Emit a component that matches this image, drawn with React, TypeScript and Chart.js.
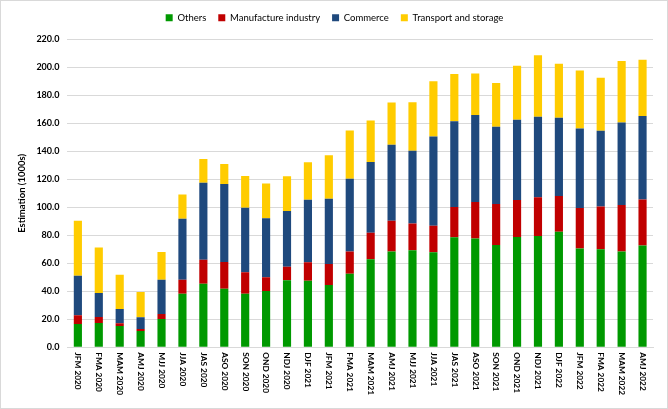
import React, { useEffect, useRef } from "react";
import { Chart, registerables } from "chart.js";

Chart.register(...registerables);

const categories = [
  "JFM 2020", "FMA 2020", "MAM 2020", "AMJ 2020", "MJJ 2020", "JJA 2020", "JAS 2020",
  "ASO 2020", "SON 2020", "OND 2020", "NDJ 2020", "DJF 2021", "JFM 2021", "FMA 2021",
  "MAM 2021", "AMJ 2021", "MJJ 2021", "JJA 2021", "JAS 2021", "ASO 2021", "SON 2021",
  "OND 2021", "NDJ 2021", "DJF 2022", "JFM 2022", "FMA 2022", "MAM 2022", "AMJ 2022",
];

const others = [
  16.7, 17.4, 15.2, 11.7, 20.2, 38.3, 45.5, 41.9, 38.2, 40.3, 47.9, 47.6, 44.5, 52.6,
  63.0, 68.5, 69.4, 67.9, 78.7, 77.7, 73.2, 78.9, 79.6, 82.5, 70.6, 70.1, 68.5, 72.7,
];
const manufacture = [
  6.2, 4.3, 1.9, 1.4, 3.6, 10.0, 17.1, 19.1, 15.4, 9.7, 9.7, 13.1, 15.0, 15.9,
  18.8, 22.0, 19.0, 19.0, 21.5, 26.1, 29.2, 26.3, 27.7, 25.6, 28.9, 30.6, 33.2, 33.0,
];
const commerce = [
  28.3, 17.1, 10.3, 8.3, 24.5, 43.6, 55.0, 55.7, 46.2, 42.2, 39.8, 44.8, 46.7, 51.9,
  50.7, 54.3, 52.1, 63.8, 61.4, 62.3, 55.2, 57.4, 57.4, 55.9, 56.9, 54.0, 59.0, 59.7,
];
const transport = [
  39.3, 32.6, 24.5, 18.1, 19.8, 17.4, 17.0, 14.3, 22.7, 24.9, 24.9, 26.7, 31.0, 34.6,
  29.6, 30.1, 34.6, 39.4, 33.7, 29.6, 31.3, 38.6, 44.1, 38.6, 41.5, 38.0, 44.0, 40.1,
];

const yTicks = { min: 0, max: 220, step: 20 };
const FONT = "Lato, 'Open Sans', sans-serif";
const X_FONT_SIZE = 8.3;

const downLabels = {
  id: "downLabels",
  afterDraw(chart: any) {
    const scale = chart.scales.x;
    const ctx = chart.ctx;
    ctx.save();
    ctx.fillStyle = "#000";
    ctx.font = `bold ${X_FONT_SIZE}px ${FONT}`;
    ctx.textAlign = "left";
    ctx.textBaseline = "middle";
    const labels = chart.data.labels as string[];
    labels.forEach((lab, i) => {
      const x = scale.getPixelForTick(i);
      const y = scale.top + 5;
      ctx.save();
      ctx.translate(x, y);
      ctx.rotate(Math.PI / 2);
      ctx.fillText(lab, 0, 0);
      ctx.restore();
    });
    ctx.restore();
  },
};

const legendGap = {
  id: "legendGap",
  beforeInit(chart: any) {
    const legend = chart.legend;
    if (!legend) return;
    const orig = legend.fit;
    legend.fit = function () {
      orig.call(this);
      this.height += 7;
    };
  },
};

export default function App() {
  const ref = useRef<HTMLCanvasElement | null>(null);
  useEffect(() => {
    if (!ref.current) return;
    const mk = (label: string, data: number[], color: string) => ({
      label,
      data,
      backgroundColor: color,
      borderWidth: 0,
      barPercentage: 0.78,
      categoryPercentage: 0.5,
    });
    const chart = new Chart(ref.current, {
      type: "bar",
      data: {
        labels: categories,
        datasets: [
          mk("Others", others, "#009900"),
          mk("Manufacture industry", manufacture, "#C00000"),
          mk("Commerce", commerce, "#1F497D"),
          mk("Transport and storage", transport, "#FFCC00"),
        ],
      },
      options: {
        animation: false,
        responsive: false,
        maintainAspectRatio: false,
        layout: { padding: { left: 15, right: 14, top: 0, bottom: 8 } },
        plugins: {
          legend: {
            position: "top",
            labels: {
              boxWidth: 7,
              boxHeight: 7,
              padding: 12,
              color: "#000",
              font: { family: FONT, size: 9.5 },
            },
          },
          tooltip: { enabled: false },
        },
        scales: {
          x: {
            stacked: true,
            grid: { display: false, drawTicks: false },
            border: { color: "#d9d9d9" },
            ticks: {
              color: "rgba(0,0,0,0)",
              minRotation: 90,
              maxRotation: 90,
              autoSkip: false,
              padding: 5,
              font: { family: FONT, size: X_FONT_SIZE, weight: "bold" },
            },
          },
          y: {
            stacked: true,
            min: yTicks.min,
            max: yTicks.max,
            grid: { color: "#d9d9d9", drawTicks: false },
            border: { display: false },
            ticks: {
              stepSize: yTicks.step,
              padding: 8,
              color: "#000",
              font: { family: FONT, size: 9, weight: "bold" },
              callback: (v: any) => Number(v).toFixed(1),
            },
            title: {
              display: true,
              text: "Estimation (1000s)",
              color: "#000",
              font: { family: FONT, size: 9.5, weight: "bold" },
              padding: { top: 0, bottom: 1 },
            },
          },
        },
      },
      plugins: [downLabels, legendGap],
    });
    return () => chart.destroy();
  }, []);
  return (
    <div
      style={{
        position: "fixed",
        left: 0,
        top: 0,
        width: 668,
        height: 409,
        boxSizing: "border-box",
        border: "1px solid #d9d9d9",
        background: "#fff",
      }}
    >
      <canvas ref={ref} width={666} height={407} style={{ display: "block" }} />
    </div>
  );
}
